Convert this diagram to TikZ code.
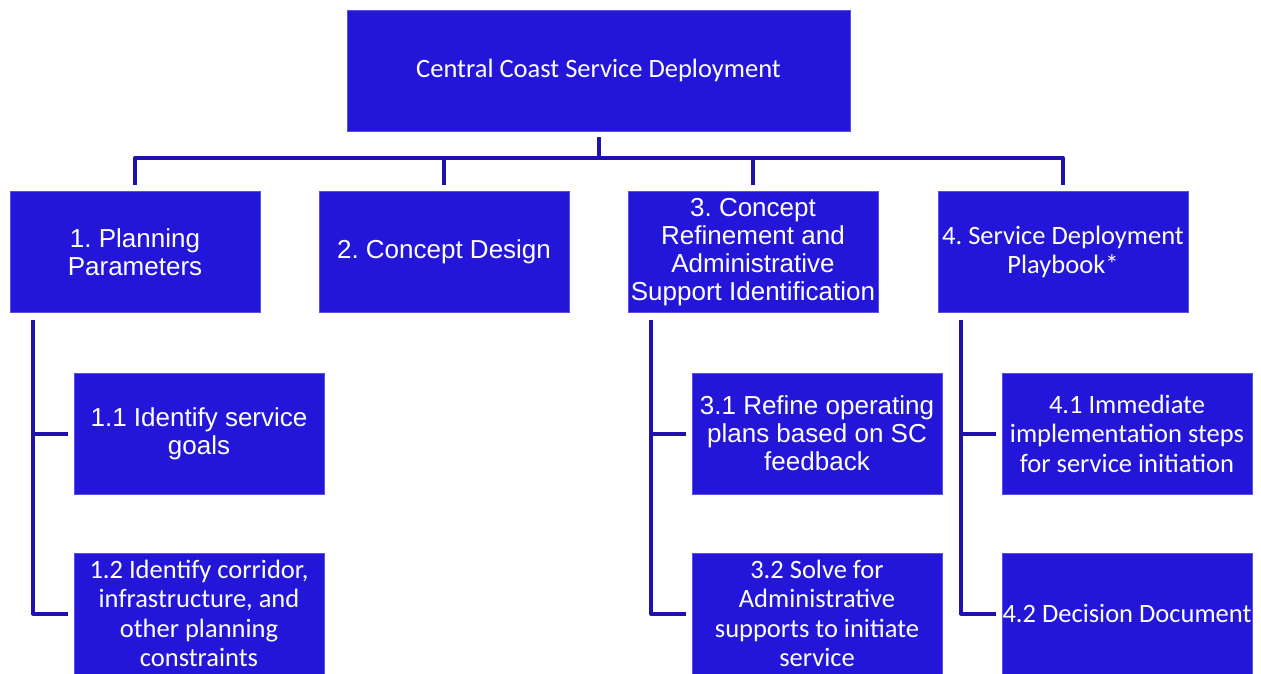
\documentclass[tikz,border=0pt]{standalone}
\usepackage{fontspec}
\setmainfont{Liberation Sans}
\newfontfamily\calfont{Carlito}
\definecolor{boxfill}{RGB}{36,22,216}
\definecolor{conncol}{RGB}{33,17,172}
\tikzset{
  box/.style={rectangle, fill=boxfill, draw=boxfill!75!white, line width=0.6pt,
    minimum width=250pt, minimum height=121pt, inner sep=0pt, text=white, align=center},
  arialtxt/.style={font=\frenchspacing\fontsize{26}{28}\selectfont},
  calibtxt/.style={font=\frenchspacing\calfont\fontsize{26.5}{29.5}\selectfont},
  conn/.style={draw=conncol, line width=4pt, line join=round}
}
\begin{document}
\begin{tikzpicture}[x=1pt,y=-1pt]
\useasboundingbox (0,0) rectangle (1261,673);
% root
\node[box, calibtxt, minimum width=503pt] (root) at (598.5,70.5) {Central Coast Service Deployment};
% level 1
\node[box, arialtxt] (n1) at (135,252) {1. Planning\\Parameters};
\node[box, arialtxt] (n2) at (444,252) {2. Concept Design};
\node[box, arialtxt] (n3) at (753,252) {3. Concept\\Refinement and\\Administrative\\Support Identification};
\node[box, calibtxt] (n4) at (1063,252) {4. Service Deployment\\Playbook*};
% level 2
\node[box, arialtxt] (c11) at (199,433.5) {1.1 Identify service\\goals};
\node[box, calibtxt] (c12) at (199,613.5) {1.2 Identify corridor,\\infrastructure, and\\other planning\\constraints};
\node[box, arialtxt] (c31) at (817,433.5) {3.1 Refine operating\\plans based on SC\\feedback};
\node[box, calibtxt] (c32) at (817,613.5) {3.2 Solve for\\Administrative\\supports to initiate\\service};
\node[box, calibtxt] (c41) at (1127,433.5) {4.1 Immediate\\implementation steps\\for service initiation};
\node[box, calibtxt] (c42) at (1127,613.5) {4.2 Decision Document};
% top bus
\draw[conn] ([yshift=-6pt]root.south) -- ([yshift=33pt]n2.north -| root.south);
\draw[conn] ([yshift=6pt]n1.north) -- ([yshift=33pt]n1.north) -- ([yshift=33pt]n4.north) -- ([yshift=6pt]n4.north);
\draw[conn] ([yshift=6pt]n2.north) -- ([yshift=33pt]n2.north);
\draw[conn] ([yshift=6pt]n3.north) -- ([yshift=33pt]n3.north);
% group 1
\draw[conn] ([xshift=23pt,yshift=-7pt]n1.south west) |- ([xshift=-6pt]c12.west);
\draw[conn] ([xshift=23pt]n1.south west |- c11.west) -- ([xshift=-6pt]c11.west);
% group 3
\draw[conn] ([xshift=23pt,yshift=-7pt]n3.south west) |- ([xshift=-6pt]c32.west);
\draw[conn] ([xshift=23pt]n3.south west |- c31.west) -- ([xshift=-6pt]c31.west);
% group 4
\draw[conn] ([xshift=23pt,yshift=-7pt]n4.south west) |- ([xshift=-6pt]c42.west);
\draw[conn] ([xshift=23pt]n4.south west |- c41.west) -- ([xshift=-6pt]c41.west);
\end{tikzpicture}
\end{document}
